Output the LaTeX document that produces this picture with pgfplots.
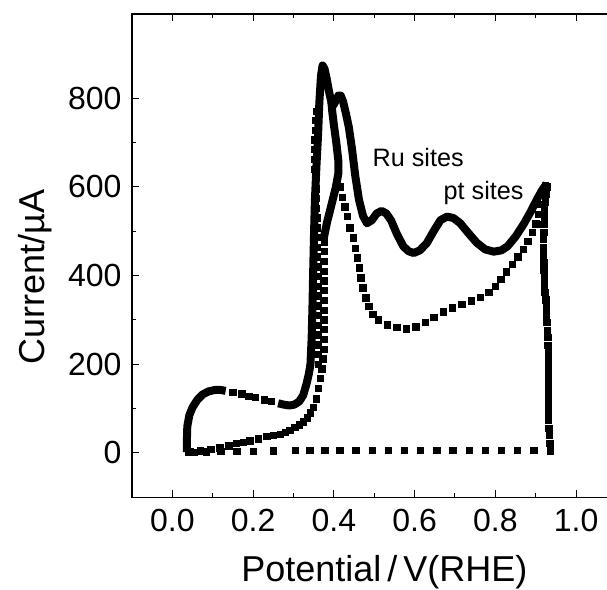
\documentclass[border=0pt]{standalone}
\usepackage{fontspec}
\setmainfont{Liberation Sans}
\usepackage{pgfplots}
\pgfplotsset{compat=1.18}
\begin{document}
\begin{tikzpicture}
\begin{scope}
\clip (-66pt,-46.35pt) rectangle (237.5pt,248.65pt);
\begin{axis}[
  at={(0,0)}, anchor=south west, scale only axis,
  width=242.25pt, height=241.65pt,
  xmin=-0.1, xmax=1.1, ymin=-100, ymax=990,
  xtick={0,0.2,0.4,0.6,0.8,1.0}, minor x tick num=1,
  ytick={0,200,400,600,800}, minor y tick num=1,
  tick align=inside, major tick length=3.5pt, minor tick length=2pt,
  every tick/.style={black, line width=0.5pt},
  axis line style={line width=0.75pt},
  /pgf/number format/assume math mode=true,
  xticklabel style={/pgf/number format/.cd, fixed, fixed zerofill, precision=1, /tikz/.cd,
    font=\fontsize{16}{19}\selectfont, yshift=-2.5pt},
  yticklabel style={font=\fontsize{16}{19}\selectfont, xshift=-1.7pt},
  xlabel={Potential\,/\,V(RHE)},
  xlabel style={at={(axis description cs:0.521,-0.175)}, anchor=base, font=\fontsize{18}{21}\selectfont},
  ylabel={Current/µA},
  ylabel style={at={(axis description cs:-0.1816,0.456)}, anchor=base, font=\fontsize{18}{21}\selectfont},
]
% solid-looking dense scan
\addplot[black, line width=4pt, line join=round, no marks] coordinates {
(0.036,2) (0.036,30) (0.037,60) (0.042,85) (0.05,103) (0.062,120) (0.075,132) (0.09,139) (0.105,142) (0.12,142) (0.132,140)
};
\addplot[only marks, mark=square*, mark size=1.6pt, black] coordinates {
(0.15,137) (0.172,133) (0.19,128) (0.205,125) (0.228,120) (0.245,116)
};
\addplot[black, line width=4pt, line join=round, no marks] coordinates {
(0.262,112) (0.276,109) (0.29,107) (0.302,109) (0.314,116) (0.324,130) (0.332,155) (0.338,178) (0.342,200) (0.345,260) (0.347,330) (0.349,420) (0.351,500) (0.353,570) (0.357,650) (0.361,720) (0.364,790) (0.368,850) (0.372,874) (0.377,866) (0.382,845) (0.388,815) (0.394,790) (0.399,784) (0.405,795) (0.411,806) (0.417,806) (0.423,792) (0.43,765) (0.437,735) (0.445,685) (0.453,625) (0.462,572) (0.472,535) (0.482,518) (0.494,525) (0.506,540) (0.518,546) (0.53,540) (0.542,524) (0.556,494) (0.572,466) (0.585,455) (0.598,451) (0.613,457) (0.63,473) (0.647,500) (0.664,525) (0.68,533) (0.696,530) (0.713,518) (0.734,495) (0.754,474) (0.775,459) (0.796,454) (0.815,457) (0.83,466) (0.85,488) (0.87,516) (0.888,545) (0.903,572) (0.916,593) (0.927,607)
};
\addplot[black, line width=4pt, line join=round, no marks] coordinates {
(0.374,480) (0.383,520) (0.395,563) (0.405,600) (0.411,630) (0.411,660) (0.406,700) (0.4,740) (0.396,770) (0.394,790)
};
% descent at the upper vertex
\addplot[only marks, mark=square*, mark size=1.6pt, black] coordinates {
(0.928,600) (0.926,583) (0.924,566) (0.922,549) (0.921,532) (0.92,515) (0.92,498) (0.919,481) (0.919,464) (0.919,447) (0.92,430) (0.92,413) (0.921,396) (0.922,379) (0.923,362) (0.925,345) (0.926,328) (0.927,311) (0.928,294) (0.929,277) (0.93,260) (0.93,243) (0.931,226) (0.931,209) (0.931,192) (0.932,175) (0.932,158) (0.932,141) (0.932,124) (0.932,107) (0.932,90) (0.932,73) (0.933,56) (0.934,39) (0.935,22) (0.936,6)
};
% return scan near zero
\addplot[only marks, mark=square*, mark size=1.6pt, black] coordinates {
(0.936,5) (0.895,6) (0.855,6) (0.815,6) (0.775,6) (0.735,6) (0.695,6) (0.655,6) (0.615,6) (0.575,6) (0.535,6) (0.495,6) (0.455,6) (0.415,6) (0.378,6) (0.341,6) (0.304,6) (0.25,5) (0.2,4) (0.16,3) (0.12,3) (0.085,2) (0.055,1) (0.04,1)
};
% second scan (dotted)
\addplot[only marks, mark=square*, mark size=1.6pt, black] coordinates {
(0.045,3) (0.07,5) (0.095,8) (0.118,11) (0.14,16) (0.159,21) (0.176,24) (0.192,27) (0.213,32) (0.234,37) (0.25,39) (0.267,42) (0.28,46) (0.291,51) (0.303,57) (0.314,63) (0.324,70) (0.334,79) (0.342,90) (0.35,103) (0.356,122) (0.361,145) (0.366,168) (0.37,190) (0.373,212) (0.375,234) (0.375,256) (0.375,278) (0.375,300) (0.375,322) (0.375,344) (0.375,366) (0.375,388) (0.375,410) (0.375,432) (0.376,454) (0.376,476)
};
\addplot[only marks, mark=square*, mark size=1.6pt, black] coordinates {
(0.362,200) (0.362,222) (0.362,244) (0.362,266) (0.361,288) (0.361,310) (0.361,332) (0.36,354) (0.36,376) (0.36,398) (0.36,420) (0.359,442) (0.359,464) (0.359,486) (0.358,508) (0.358,530) (0.357,552) (0.356,574) (0.355,596) (0.354,618) (0.353,640) (0.353,662) (0.353,684) (0.353,706) (0.354,728) (0.355,750) (0.357,770)
};
\addplot[only marks, mark=square*, mark size=1.6pt, black] coordinates {
(0.415,600) (0.421,577) (0.427,555) (0.433,533) (0.44,508) (0.448,485) (0.454,462) (0.459,440) (0.463,417) (0.467,395) (0.472,372) (0.479,350) (0.487,330) (0.497,313)
(0.51,300) (0.533,289) (0.556,283) (0.58,280) (0.603,284) (0.626,294) (0.648,306) (0.671,318) (0.694,327) (0.717,335) (0.74,343) (0.763,351) (0.784,362)
(0.8,376) (0.814,392) (0.828,408) (0.842,425) (0.856,442) (0.869,459) (0.881,477) (0.891,497) (0.9,517) (0.907,538) (0.913,560) (0.919,582) (0.924,602)
};
\node[anchor=base west, inner sep=0pt, font=\fontsize{12.6}{15}\selectfont] at (axis cs:0.495,647) {Ru sites};
\node[anchor=base west, inner sep=0pt, font=\fontsize{12.6}{15}\selectfont] at (axis cs:0.671,571) {pt sites};
\end{axis}
\end{scope}
\pgfresetboundingbox
\path[use as bounding box] (-66pt,-46.35pt) rectangle (237.5pt,248.65pt);
\end{tikzpicture}
\end{document}
